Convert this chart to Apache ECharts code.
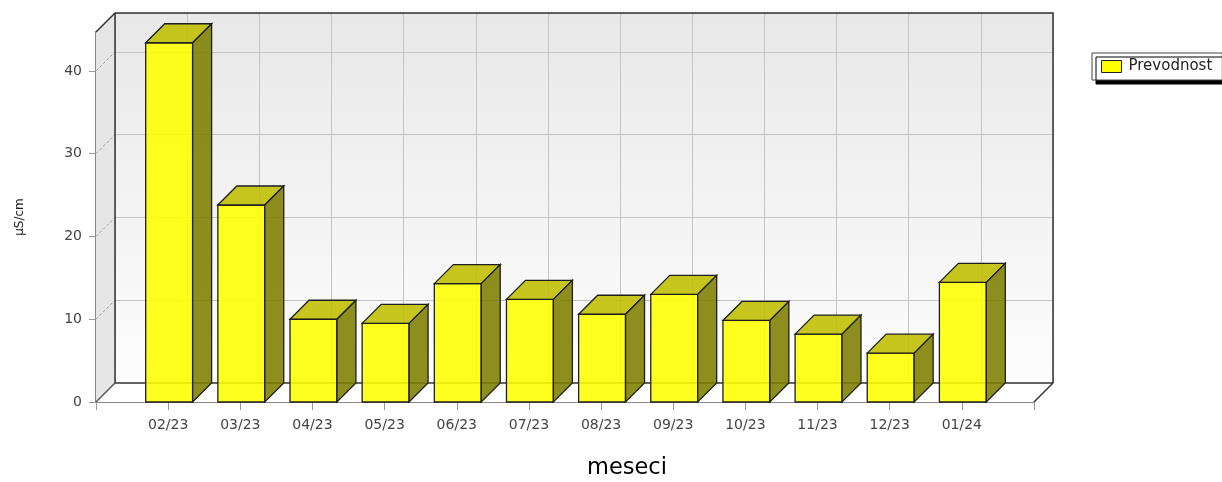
<!DOCTYPE html>
<html>
<head>
<meta charset="utf-8">
<script src="https://cdn.jsdelivr.net/npm/echarts@6/dist/echarts.min.js"></script>
<style>
html,body{margin:0;padding:0;background:#fff;overflow:hidden;}
#chart{width:1222px;height:482px;}
</style>
</head>
<body>
<div id="chart"></div>
<script>
// ---- data ----
const months = ['02/23','03/23','04/23','05/23','06/23','07/23','08/23','09/23','10/23','11/23','12/23','01/24'];
const conductivity = [43.4, 23.8, 10.0, 9.5, 14.3, 12.4, 10.6, 13.0, 9.85, 8.2, 5.9, 14.45];
const yTicks = [0, 10, 20, 30, 40];
const yMax = 44.7;
const seriesName = 'Prevodnost';
const xTitle = 'meseci';
const yTitle = 'µS/cm';

// axis categories: empty slot at each end (3D category axis margins)
const categories = [''].concat(months, ['']);

// ---- style constants ----
const DEPTH = 19;
const FONT = 'DejaVu Sans';
const G = {left: 96, right: 188, top: 32, bottom: 80};

const chart = echarts.init(document.getElementById('chart'), null, {renderer: 'canvas'});

function wallsRender(params, api) {
  const cs = params.coordSys;
  const x0 = cs.x, y0 = cs.y, x1 = cs.x + cs.width, y1 = cs.y + cs.height;
  const d = DEPTH;
  const dark = '#333';
  const children = [];
  children.push({type: 'polygon', shape: {points: [[x0, y0], [x0 + d, y0 - d], [x0 + d, y1 - d], [x0, y1]]},
    style: {fill: '#e6e6e6', stroke: null}});
  children.push({type: 'polygon', shape: {points: [[x0, y1], [x0 + d, y1 - d], [x1 + d, y1 - d], [x1, y1]]},
    style: {fill: '#ffffff', stroke: null}});
  yTicks.forEach(function (t) {
    if (t === 0) return;
    const p = api.coord([0, t]);
    children.push({type: 'line', shape: {x1: x0, y1: p[1], x2: x0 + d, y2: p[1] - d},
      style: {stroke: '#a0a0a0', lineWidth: 1, lineDash: [3, 2]}});
  });
  children.push({type: 'polyline', shape: {points: [[x0, y0], [x0 + d, y0 - d], [x1 + d, y0 - d], [x1 + d, y1 - d], [x1, y1]]},
    style: {stroke: dark, lineWidth: 1.5, fill: null}});
  children.push({type: 'line', shape: {x1: x0 + d, y1: y0 - d, x2: x0 + d, y2: y1 - d},
    style: {stroke: dark, lineWidth: 1.5}});
  children.push({type: 'line', shape: {x1: x0 + d, y1: y1 - d, x2: x1 + d, y2: y1 - d},
    style: {stroke: dark, lineWidth: 1.5}});
  children.push({type: 'line', shape: {x1: x0, y1: y1, x2: x0 + d, y2: y1 - d},
    style: {stroke: '#555', lineWidth: 1.5}});
  return {type: 'group', children: children};
}

function barRender(params, api) {
  const idx = api.value(0);
  const v = api.value(1);
  const top = api.coord([idx, v]);
  const base = api.coord([idx, 0]);
  const bw = api.size([1, 0])[0] * 0.65;
  const xa = top[0] - bw / 2 + 1, xb = xa + bw;
  const yt = top[1], yb = base[1];
  const d = DEPTH;
  const edge = {stroke: '#1e1e1e', lineWidth: 1.3};
  return {
    type: 'group',
    children: [
      {type: 'rect', shape: {x: xa, y: yt, width: bw, height: yb - yt},
        style: Object.assign({fill: 'rgba(255,255,0,0.88)'}, edge)},
      {type: 'polygon', shape: {points: [[xa, yt], [xa + d, yt - d], [xb + d, yt - d], [xb, yt]]},
        style: Object.assign({fill: 'rgba(190,190,0,0.88)'}, edge)},
      {type: 'polygon', shape: {points: [[xb, yt], [xb + d, yt - d], [xb + d, yb - d], [xb, yb]]},
        style: Object.assign({fill: 'rgba(126,126,0,0.88)'}, edge)}
    ]
  };
}

const option = {
  animation: false,
  backgroundColor: '#ffffff',
  textStyle: {fontFamily: FONT},
  legend: {
    data: [{name: seriesName, icon: 'rect'}],
    left: 1092, top: 53,
    padding: [6, 10, 6, 9],
    itemWidth: 20, itemHeight: 12, itemGap: 5,
    selectedMode: false,
    backgroundColor: '#ffffff',
    borderColor: '#444', borderWidth: 1,
    shadowColor: '#000', shadowBlur: 0, shadowOffsetX: 4, shadowOffsetY: 4,
    itemStyle: {color: '#ffff00', borderColor: '#222', borderWidth: 1},
    textStyle: {fontFamily: FONT, fontSize: 15, color: '#222', padding: [0, 0, 0, 2]}
  },
  grid: [
    {left: G.left, right: G.right, top: G.top, bottom: G.bottom, containLabel: false, outerBoundsMode: 'none'},
    {left: G.left + DEPTH, right: G.right - DEPTH, top: G.top - DEPTH, bottom: G.bottom + DEPTH, containLabel: false,
      outerBoundsMode: 'none',
      show: true, borderWidth: 0,
      backgroundColor: {type: 'linear', x: 0, y: 0, x2: 0, y2: 1,
        colorStops: [{offset: 0, color: '#e8e8e8'}, {offset: 1, color: '#fdfdfd'}]}}
  ],
  xAxis: [
    {type: 'category', gridIndex: 0, data: categories, boundaryGap: false,
      name: xTitle, nameLocation: 'middle', nameGap: 55,
      nameTextStyle: {fontFamily: FONT, fontSize: 22.5, color: '#000', padding: [0, 0, 0, 124]},
      axisLine: {show: true, lineStyle: {color: '#888', width: 2}},
      axisTick: {show: true, interval: 0, length: 8, lineStyle: {color: '#999'}},
      axisLabel: {interval: 0, margin: 16, fontFamily: FONT, fontSize: 14, color: '#444'},
      splitLine: {show: false}},
    {type: 'category', gridIndex: 1, data: categories, boundaryGap: false,
      axisLine: {show: false}, axisTick: {show: false}, axisLabel: {show: false},
      splitLine: {show: true, interval: 0, lineStyle: {color: '#c4c4c4', width: 1}}}
  ],
  yAxis: [
    {type: 'value', gridIndex: 0, min: 0, max: yMax, interval: 10,
      name: yTitle, nameLocation: 'middle', nameRotate: 90, nameGap: 70,
      nameTextStyle: {fontFamily: FONT, fontSize: 12, color: '#222'},
      axisLine: {show: true, lineStyle: {color: '#888', width: 2}},
      axisTick: {show: true, length: 7, lineStyle: {color: '#999'}},
      axisLabel: {margin: 14, fontFamily: FONT, fontSize: 14, color: '#444', showMaxLabel: false,
        formatter: function (v) { return yTicks.indexOf(v) >= 0 ? String(v) : ''; }},
      splitLine: {show: false}},
    {type: 'value', gridIndex: 1, min: 0, max: yMax, interval: 10,
      axisLine: {show: false}, axisTick: {show: false}, axisLabel: {show: false},
      splitLine: {show: true, lineStyle: {color: '#c4c4c4', width: 1}}}
  ],
  series: [
    {type: 'custom', name: '__walls', xAxisIndex: 0, yAxisIndex: 0, silent: true, z: 1,
      data: [[0, 0]], renderItem: wallsRender},
    {type: 'custom', name: seriesName, xAxisIndex: 0, yAxisIndex: 0, z: 3,
      itemStyle: {color: '#ffff00'},
      encode: {x: 0, y: 1},
      data: months.map(function (m, i) { return [i + 1, conductivity[i]]; }),
      renderItem: barRender}
  ]
};
chart.setOption(option);
</script>
</body>
</html>
